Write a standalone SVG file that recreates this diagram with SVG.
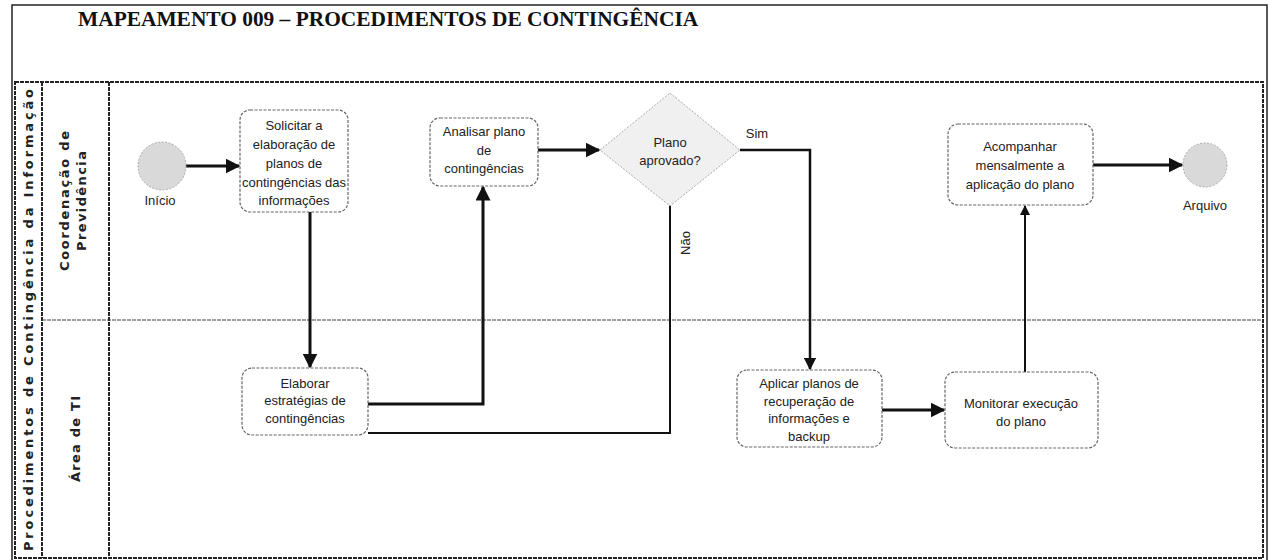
<svg xmlns="http://www.w3.org/2000/svg" width="1269" height="560" viewBox="0 0 1269 560">
<style>
.frame{fill:none;stroke:#222;stroke-width:1.5}
.pool{fill:none;stroke:#222;stroke-width:2;stroke-dasharray:4 1}
.task{fill:#fff;stroke:#666;stroke-width:1.2;stroke-dasharray:3 1.5}
.t{font-family:"Liberation Sans",Arial,sans-serif;font-size:13px;fill:#222;text-anchor:middle}
.lane{font-family:"DejaVu Sans",sans-serif;font-size:13px;font-weight:bold;fill:#222;text-anchor:middle}
.conn{fill:none;stroke:#111;stroke-width:3}
.ev{fill:#d9d9d9;stroke:#aaa;stroke-width:1;stroke-dasharray:2 1.5}
</style>
<defs>
<marker id="arr" viewBox="0 0 10 10" refX="9" refY="5" markerWidth="5" markerHeight="5" orient="auto" markerUnits="strokeWidth">
<path d="M0,0 L10,5 L0,10 z" fill="#111"/>
</marker>
</defs>
<rect width="1269" height="560" fill="#fff"/>
<g id="frame">
<path class="frame" d="M12,562 L12,5 L1267,5 L1267,562"/>
<text x="78" y="26" font-family="'Liberation Serif','Times New Roman',serif" font-size="21.4" font-weight="bold" fill="#111">MAPEAMENTO 009 – PROCEDIMENTOS DE CONTINGÊNCIA</text>
</g>
<g id="pool">
<rect class="pool" x="15" y="82" width="1248" height="476"/>
<line class="pool" x1="42" y1="82" x2="42" y2="558"/>
<line class="pool" x1="109" y1="82" x2="109" y2="558"/>
<line x1="42" y1="320" x2="1263" y2="320" stroke="#444" stroke-width="1.2" stroke-dasharray="4 1"/>
<text class="lane" transform="translate(33,320) rotate(-90)" textLength="462" lengthAdjust="spacing">Procedimentos de Contingência da Informação</text>
<text class="lane" transform="translate(69,201) rotate(-90)" textLength="140" lengthAdjust="spacing">Coordenação de</text>
<text class="lane" transform="translate(86,201) rotate(-90)" textLength="100" lengthAdjust="spacing">Previdência</text>
<text class="lane" transform="translate(80,439) rotate(-90)" textLength="86" lengthAdjust="spacing">Área de TI</text>
</g>
<g id="connectors">
<line class="conn" x1="186" y1="166" x2="239" y2="166" marker-end="url(#arr)"/>
<line class="conn" x1="310" y1="212" x2="310" y2="367" marker-end="url(#arr)"/>
<polyline class="conn" points="368,404 483,404 483,187" marker-end="url(#arr)"/>
<line class="conn" x1="538" y1="150" x2="599" y2="150" marker-end="url(#arr)"/>
<polyline class="conn" points="740,150 810,150 810,369" marker-end="url(#arr)" style="stroke-width:2.5"/>
<polyline class="conn" points="670,205 670,433 368,433" style="stroke-width:2"/>
<line class="conn" x1="882" y1="410" x2="944" y2="410" marker-end="url(#arr)"/>
<line class="conn" x1="1025" y1="372" x2="1025" y2="206" marker-end="url(#arr)" style="stroke-width:2"/>
<line class="conn" x1="1093" y1="165" x2="1182" y2="165" marker-end="url(#arr)"/>
<text x="757" y="138" class="t">Sim</text>
<text class="t" transform="translate(690,243) rotate(-90)">Não</text>
</g>
<g id="inicio">
<circle class="ev" cx="162" cy="166" r="24"/>
<text x="160" y="205" class="t">Início</text>
</g>
<g id="solicitar">
<rect class="task" x="240" y="110" width="108" height="102" rx="10"/>
<text class="t" x="294" y="130">Solicitar a</text>
<text class="t" x="294" y="149">elaboração de</text>
<text class="t" x="294" y="168">planos de</text>
<text class="t" x="294" y="187">contingências das</text>
<text class="t" x="294" y="205">informações</text>
</g>
<g id="analisar">
<rect class="task" x="430" y="118" width="108" height="68" rx="10"/>
<text class="t" x="484" y="136">Analisar plano</text>
<text class="t" x="484" y="155">de</text>
<text class="t" x="484" y="173">contingências</text>
</g>
<g id="decisao">
<polygon points="670,93 740,150 670,206 600,150" fill="#f0f0f0" stroke="#aaa" stroke-width="1" stroke-dasharray="2 1.5"/>
<text class="t" x="670" y="147">Plano</text>
<text class="t" x="670" y="165">aprovado?</text>
</g>
<g id="elaborar">
<rect class="task" x="242" y="368" width="126" height="67" rx="10"/>
<text class="t" x="305" y="388">Elaborar</text>
<text class="t" x="305" y="405">estratégias de</text>
<text class="t" x="305" y="423">contingências</text>
</g>
<g id="aplicar">
<rect class="task" x="737" y="370" width="145" height="77" rx="10"/>
<text class="t" x="809" y="388">Aplicar planos de</text>
<text class="t" x="809" y="406">recuperação de</text>
<text class="t" x="809" y="423">informações e</text>
<text class="t" x="809" y="441">backup</text>
</g>
<g id="monitorar">
<rect class="task" x="945" y="372" width="153" height="76" rx="10"/>
<text class="t" x="1021" y="408">Monitorar execução</text>
<text class="t" x="1021" y="426">do plano</text>
</g>
<g id="acompanhar">
<rect class="task" x="948" y="124" width="145" height="81" rx="10"/>
<text class="t" x="1020" y="151">Acompanhar</text>
<text class="t" x="1020" y="170">mensalmente a</text>
<text class="t" x="1020" y="189">aplicação do plano</text>
</g>
<g id="arquivo">
<circle class="ev" cx="1205" cy="165" r="22"/>
<text x="1205" y="210" class="t">Arquivo</text>
</g>
</svg>
